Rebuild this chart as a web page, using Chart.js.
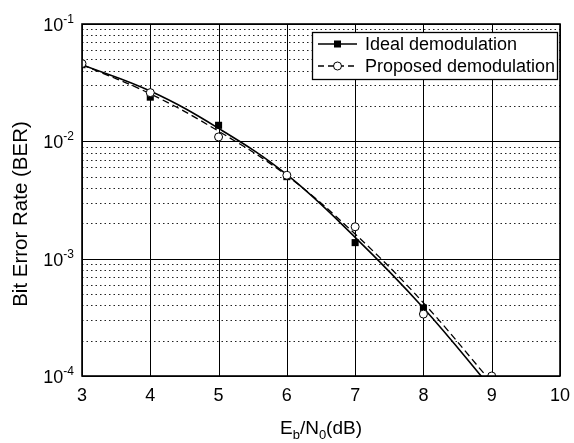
<!DOCTYPE html>
<html>
<head>
<meta charset="utf-8">
<script src="https://cdn.jsdelivr.net/npm/chart.js@4.4.0/dist/chart.umd.min.js"></script>
<style>
html,body{margin:0;padding:0;background:#fff;}
#wrap{width:574px;height:443px;position:relative;}
</style>
</head>
<body>
<div id="wrap"><canvas id="c" width="574" height="443"></canvas></div>
<script>
// ---- data ----
const ebn0 = [3, 4, 5, 6, 7, 8, 9];
const idealCurve = [0.045, 0.0268, 0.0129, 0.0052, 0.00152, 0.00038, 0.000078];
const proposedCurve = [0.045, 0.0254, 0.0122, 0.0051, 0.00162, 0.00042, 0.000088];
const idealPoints = [0.045, 0.0238, 0.0137, 0.0050, 0.00137, 0.00038, 0.00008];
const proposedPoints = [0.046, 0.026, 0.0109, 0.00514, 0.00187, 0.000337, 0.0001];
const xTicks = [3, 4, 5, 6, 7, 8, 9, 10];
const yDecades = [-1, -2, -3, -4];
const seriesNames = ['Ideal demodulation', 'Proposed demodulation'];

const FONT = '"Liberation Sans", Arial, Helvetica, sans-serif';
const toXY = (xs, ys) => xs.map((x, i) => ({x: x, y: ys[i]}));

const drawPlugin = {
  id: 'matlabLook',
  beforeDatasetsDraw(chart) {
    const ctx = chart.ctx, a = chart.chartArea;
    const xs = chart.scales.x, ys = chart.scales.y;
    ctx.save();
    // minor dotted y grid
    ctx.strokeStyle = '#222';
    ctx.lineWidth = 1;
    ctx.setLineDash([1.5, 3]);
    for (let k = -4; k <= -2; k++) {
      for (let m = 2; m <= 9; m++) {
        const py = Math.round(ys.getPixelForValue(m * Math.pow(10, k))) + 0.5;
        ctx.beginPath(); ctx.moveTo(a.left, py); ctx.lineTo(a.right, py); ctx.stroke();
      }
    }
    ctx.setLineDash([]);
    ctx.strokeStyle = '#000';
    // major x grid
    xTicks.forEach(v => {
      const px = Math.round(xs.getPixelForValue(v)) + 0.5;
      ctx.beginPath(); ctx.moveTo(px, a.top); ctx.lineTo(px, a.bottom); ctx.stroke();
    });
    // major y grid
    yDecades.forEach(k => {
      const py = Math.round(ys.getPixelForValue(Math.pow(10, k))) + 0.5;
      ctx.beginPath(); ctx.moveTo(a.left, py); ctx.lineTo(a.right, py); ctx.stroke();
    });
    ctx.restore();
  },
  afterDatasetsDraw(chart) {
    const ctx = chart.ctx, a = chart.chartArea;
    const xs = chart.scales.x, ys = chart.scales.y;
    ctx.save();
    // axes box
    ctx.strokeStyle = '#000';
    ctx.lineWidth = 1.6;
    ctx.strokeRect(a.left, a.top, a.right - a.left, a.bottom - a.top);
    // x tick labels
    ctx.fillStyle = '#000';
    ctx.font = '18px ' + FONT;
    ctx.textAlign = 'center';
    ctx.textBaseline = 'alphabetic';
    xTicks.forEach(v => {
      ctx.fillText(String(v), xs.getPixelForValue(v), a.bottom + 25);
    });
    // y tick labels 10^k
    yDecades.forEach(k => {
      const py = ys.getPixelForValue(Math.pow(10, k));
      ctx.font = '12px ' + FONT;
      const sup = '-' + String(-k);
      const sw = ctx.measureText(sup).width;
      const supX = a.left - 8 - sw;
      ctx.textAlign = 'left';
      ctx.fillText(sup, supX, py - 1);
      ctx.font = '18px ' + FONT;
      ctx.textAlign = 'right';
      ctx.fillText('10', supX, py + 7);
    });
    // y axis title
    ctx.save();
    ctx.translate(27, 214);
    ctx.rotate(-Math.PI / 2);
    ctx.font = '20.5px ' + FONT;
    ctx.textAlign = 'center';
    ctx.fillText('Bit Error Rate (BER)', 0, 0);
    ctx.restore();
    // x axis title: E_b/N_0(dB)
    const parts = [['E', 0, 19], ['b', 5, 13], ['/N', 0, 19], ['0', 5, 13], ['(dB)', 0, 19]];
    let total = 0;
    parts.forEach(p => { ctx.font = p[2] + 'px ' + FONT; total += ctx.measureText(p[0]).width; });
    let cx = (a.left + a.right) / 2 - total / 2;
    ctx.textAlign = 'left';
    parts.forEach(p => {
      ctx.font = p[2] + 'px ' + FONT;
      ctx.fillText(p[0], cx, 434 + p[1]);
      cx += ctx.measureText(p[0]).width;
    });
    // legend
    const lx = 312, ly = 32, lw = 245, lh = 47;
    ctx.fillStyle = '#fff';
    ctx.fillRect(lx, ly, lw, lh);
    ctx.strokeStyle = '#000';
    ctx.lineWidth = 1.3;
    ctx.strokeRect(lx + 0.5, ly + 0.5, lw, lh);
    const rows = [ly + 12, ly + 34];
    ctx.lineWidth = 1.5;
    // row 1 solid + square
    ctx.setLineDash([]);
    ctx.beginPath(); ctx.moveTo(318, rows[0]); ctx.lineTo(357, rows[0]); ctx.stroke();
    ctx.fillStyle = '#000';
    ctx.fillRect(337.5 - 3.5, rows[0] - 3.5, 7, 7);
    // row 2 dashed + circle
    ctx.setLineDash([6, 4]);
    ctx.beginPath(); ctx.moveTo(318, rows[1]); ctx.lineTo(357, rows[1]); ctx.stroke();
    ctx.setLineDash([]);
    ctx.lineWidth = 1;
    ctx.fillStyle = '#fff';
    ctx.beginPath(); ctx.arc(337.5, rows[1], 4, 0, Math.PI * 2); ctx.fill(); ctx.stroke();
    ctx.fillStyle = '#000';
    ctx.font = '18px ' + FONT;
    ctx.textAlign = 'left';
    ctx.fillText(seriesNames[0], 365, rows[0] + 6);
    ctx.fillText(seriesNames[1], 365, rows[1] + 6);
    ctx.restore();
  }
};

new Chart(document.getElementById('c'), {
  type: 'line',
  data: {
    datasets: [
      {label: seriesNames[1] + ' points', data: toXY(ebn0, proposedPoints), showLine: false,
       pointStyle: 'circle', pointRadius: 4, pointBackgroundColor: '#fff', pointBorderColor: '#000',
       pointBorderWidth: 1, order: 1},
      {label: seriesNames[0] + ' points', data: toXY(ebn0, idealPoints), showLine: false,
       pointStyle: 'rect', pointRadius: 5, pointBackgroundColor: '#000', pointBorderColor: '#000',
       pointBorderWidth: 0, order: 2},
      {label: seriesNames[0], data: toXY(ebn0, idealCurve), borderColor: '#000', borderWidth: 1.6,
       pointRadius: 0, fill: false, tension: 0.4, order: 3},
      {label: seriesNames[1], data: toXY(ebn0, proposedCurve), borderColor: '#000', borderWidth: 1.3,
       borderDash: [7, 4], pointRadius: 0, fill: false, tension: 0.4, order: 4}
    ]
  },
  options: {
    responsive: false,
    animation: false,
    devicePixelRatio: 1,
    layout: {padding: {left: 82, right: 14, top: 24, bottom: 67}},
    plugins: {legend: {display: false}, tooltip: {enabled: false}, title: {display: false}},
    scales: {
      x: {type: 'linear', min: 3, max: 10, display: false},
      y: {type: 'logarithmic', min: 1e-4, max: 1e-1, display: false}
    }
  },
  plugins: [drawPlugin]
});
</script>
</body>
</html>
